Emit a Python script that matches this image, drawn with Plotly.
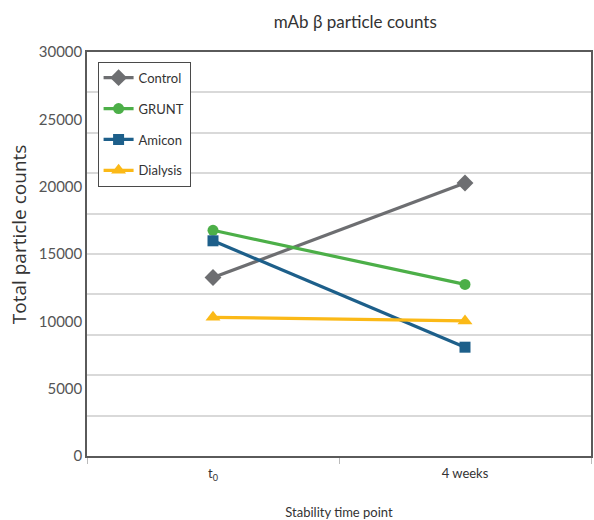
import plotly.graph_objects as go

# Stability time points and particle counts per concentration method
time_points = ["t<sub>0</sub>", "4 weeks"]
control = [13250, 20270]
grunt = [16760, 12740]
amicon = [15980, 8080]
dialysis = [10300, 10030]

y_tick_values = [0, 5000, 10000, 15000, 20000, 25000, 30000]
grid_values = [3000, 6000, 9000, 12000, 15000, 18000, 21000, 24000, 27000]

series = [
    ("Control", control, "#6d6e71", "diamond", 13),
    ("GRUNT", grunt, "#4caf48", "circle", 11),
    ("Amicon", amicon, "#1d5f8a", "square", 11),
    ("Dialysis", dialysis, "#fbb917", "triangle-up", 13),
]

fig = go.Figure()
for name, values, color, symbol, size in series:
    fig.add_trace(go.Scatter(
        x=time_points, y=values, name=name, legendgroup=name,
        mode="lines+markers",
        line=dict(color=color, width=3.2),
        marker=dict(symbol=symbol, size=size, color=color),
    ))

font_family = "Lato, 'Noto Sans', sans-serif"

fig.update_layout(
    width=594, height=520,
    margin=dict(l=87, r=1, t=52, b=63),
    paper_bgcolor="white", plot_bgcolor="white",
    font=dict(family=font_family, color="#333333", size=13),
    title=dict(text="mAb β particle counts", x=0.598, xanchor="center",
               y=0.958, yanchor="middle", font=dict(size=17, color="#333333")),
    showlegend=True,
    legend=dict(x=0.021, y=0.976, xanchor="left", yanchor="top",
                bgcolor="white", bordercolor="#4a4a4a", borderwidth=1,
                font=dict(size=13, color="#333333"),
                traceorder="grouped", tracegroupgap=11,
                itemwidth=30),
    xaxis=dict(
        type="category", range=[-0.5, 1.5],
        showgrid=False, showline=True, linecolor="#5a5a5a", linewidth=1.5,
        mirror=True, ticks="outside", tickson="boundaries", ticklen=6,
        tickcolor="#bbbbbb", tickfont=dict(size=13, color="#333333"),
        ticklabelstandoff=5,
        title=dict(text="Stability time point", font=dict(size=13, color="#333333"),
                   standoff=27),
    ),
    yaxis=dict(
        range=[0, 30000], tickvals=y_tick_values,
        ticktext=[str(v) for v in y_tick_values],
        showgrid=False, zeroline=False,
        showline=True, linecolor="#5a5a5a", linewidth=1.5, mirror=True,
        ticks="", tickfont=dict(size=15, color="#555555"),
        minor=dict(tickvals=grid_values, showgrid=True,
                   gridcolor="#d9d9d9", gridwidth=1.5, ticks=""),
    ),
    annotations=[dict(
        text="Total particle counts", textangle=-90,
        xref="paper", yref="paper", x=-0.136, y=0.55,
        xanchor="center", yanchor="middle", showarrow=False,
        font=dict(family="'Open Sans', sans-serif", size=19, color="#333333"),
    )],
)

fig.write_html("out.html")
